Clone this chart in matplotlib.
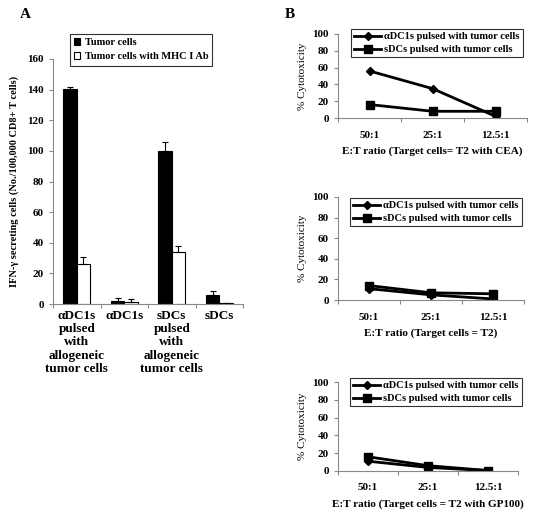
import numpy as np
import matplotlib
matplotlib.use('Agg')
import matplotlib.pyplot as plt

plt.rcParams['font.family'] = ['Liberation Serif', 'DejaVu Serif']

# Panel A: IFN-gamma secreting cells
groups = ['\u03b1DC1s\npulsed\nwith\nallogeneic\ntumor cells', '\u03b1DC1s',
          'sDCs\npulsed\nwith\nallogeneic\ntumor cells', 'sDCs']
tumor = [140.5, 2, 100, 6]
tumor_err = [1.5, 2, 5.5, 2.5]
mhc = [26, 1.5, 34, 0.5]
mhc_err = [5, 2, 4, 0.3]

# Panel B: cytotoxicity
ratios = ['50:1', '25:1', '12.5:1']
cea_adc = [56, 35, 2]
cea_sdc = [16, 8, 8]
t2_adc = [11, 5, 1]
t2_sdc = [14, 7, 6]
gp_adc = [11, 4, 0.5]
gp_sdc = [16, 6, 0.5]

W, H = 534, 516
fig = plt.figure(figsize=(W / 100, H / 100), dpi=100)


def box(l, r, top, bottom):
    return [l / W, 1 - bottom / H, (r - l) / W, (bottom - top) / H]


def style_axes(ax):
    for s in ['top', 'right']:
        ax.spines[s].set_visible(False)
    for s in ['left', 'bottom']:
        ax.spines[s].set_color('#888888')
        ax.spines[s].set_linewidth(0.8)
    ax.tick_params(axis='both', which='major', direction='out', length=3,
                   color='#888888', width=0.8)
    ax.tick_params(axis='x', which='minor', length=0)


# ---- Panel A ----
axA = fig.add_axes(box(53, 243, 59, 304))
x = np.arange(len(groups)) + 0.5
bw = 0.28
axA.bar(x - bw / 2, tumor, bw, color='black', edgecolor='black', linewidth=0.8,
        label='Tumor cells')
axA.bar(x + bw / 2, mhc, bw, color='white', edgecolor='black', linewidth=0.8,
        label='Tumor cells with MHC I Ab')
axA.errorbar(x - bw / 2, tumor, yerr=[np.zeros(4), tumor_err], fmt='none',
             ecolor='black', elinewidth=0.8, capsize=2.5, capthick=0.8)
axA.errorbar(x + bw / 2, mhc, yerr=[np.zeros(4), mhc_err], fmt='none',
             ecolor='black', elinewidth=0.8, capsize=2.5, capthick=0.8)
axA.set_xlim(0, 4)
axA.set_ylim(0, 160)
axA.set_yticks(np.arange(0, 161, 20))
axA.set_xticks(np.arange(0, 5))
axA.set_xticklabels([])
axA.set_xticks(x, minor=True)
axA.set_xticklabels(groups, minor=True, fontsize=9.5, fontweight='bold',
                    linespacing=1.15, va='top')
axA.tick_params(axis='x', which='minor', pad=4)
for t in axA.get_yticklabels():
    t.set_fontsize(8)
    t.set_fontweight('bold')
style_axes(axA)
axA.set_ylabel('IFN-\u03b3 secreting cells (No./100,000 CD8+ T cells)',
               fontsize=7.5, fontweight='bold', labelpad=6)
legA = axA.legend(loc='upper left', bbox_to_anchor=(70 / W, 1 - 34 / H),
                  bbox_transform=fig.transFigure, frameon=True, fancybox=False,
                  edgecolor='black', handlelength=0.6, borderaxespad=0,
                  handleheight=0.6, handletextpad=0.4, borderpad=0.4,
                  labelspacing=0.5, prop={'weight': 'bold', 'size': 7.5})
legA.get_frame().set_linewidth(0.8)

fig.text(25 / W, 1 - 14 / H, 'A', fontsize=11, fontweight='bold',
         ha='center', va='center')
fig.text(290 / W, 1 - 14 / H, 'B', fontsize=11, fontweight='bold',
         ha='center', va='center')

# ---- Panel B ----
panels = [
    (box(338, 527, 34, 118), cea_adc, cea_sdc,
     'E:T ratio (Target cells= T2 with CEA)', (351, 29)),
    (box(338, 524, 197, 300), t2_adc, t2_sdc,
     'E:T ratio (Target cells = T2)', (350, 198)),
    (box(338, 518, 382, 471), gp_adc, gp_sdc,
     'E:T ratio (Target cells = T2 with GP100)', (350, 378)),
]
for rect, adc, sdc, xlabel, legpos in panels:
    ax = fig.add_axes(rect)
    xb = np.arange(len(ratios)) + 0.5
    ax.plot(xb, adc, color='black', lw=2, marker='D', ms=4,
            label='\u03b1DC1s pulsed with tumor cells')
    ax.plot(xb, sdc, color='black', lw=2, marker='s', ms=6,
            label='sDCs pulsed with tumor cells')
    ax.set_xlim(0, 3)
    ax.set_ylim(0, 100)
    ax.set_yticks(np.arange(0, 101, 20))
    ax.set_xticks(np.arange(0, 4))
    ax.set_xticklabels([])
    ax.set_xticks(xb, minor=True)
    ax.set_xticklabels(ratios, minor=True, fontsize=8, fontweight='bold')
    ax.tick_params(axis='x', which='minor', pad=9)
    for t in ax.get_yticklabels():
        t.set_fontsize(8)
        t.set_fontweight('bold')
    style_axes(ax)
    ax.set_ylabel('% Cytotoxicity', fontsize=8, labelpad=4)
    ax.set_xlabel(xlabel, fontsize=8, fontweight='bold', labelpad=5)
    leg = ax.legend(loc='upper left',
                    bbox_to_anchor=(legpos[0] / W, 1 - legpos[1] / H),
                    bbox_transform=fig.transFigure, frameon=True,
                    fancybox=False, edgecolor='black', handlelength=2.6,
                    handletextpad=0.3, borderpad=0.3, labelspacing=0.35,
                    borderaxespad=0, prop={'weight': 'bold', 'size': 7.5})
    leg.get_frame().set_linewidth(0.8)

fig.savefig('out.png', dpi=100, facecolor='white')
